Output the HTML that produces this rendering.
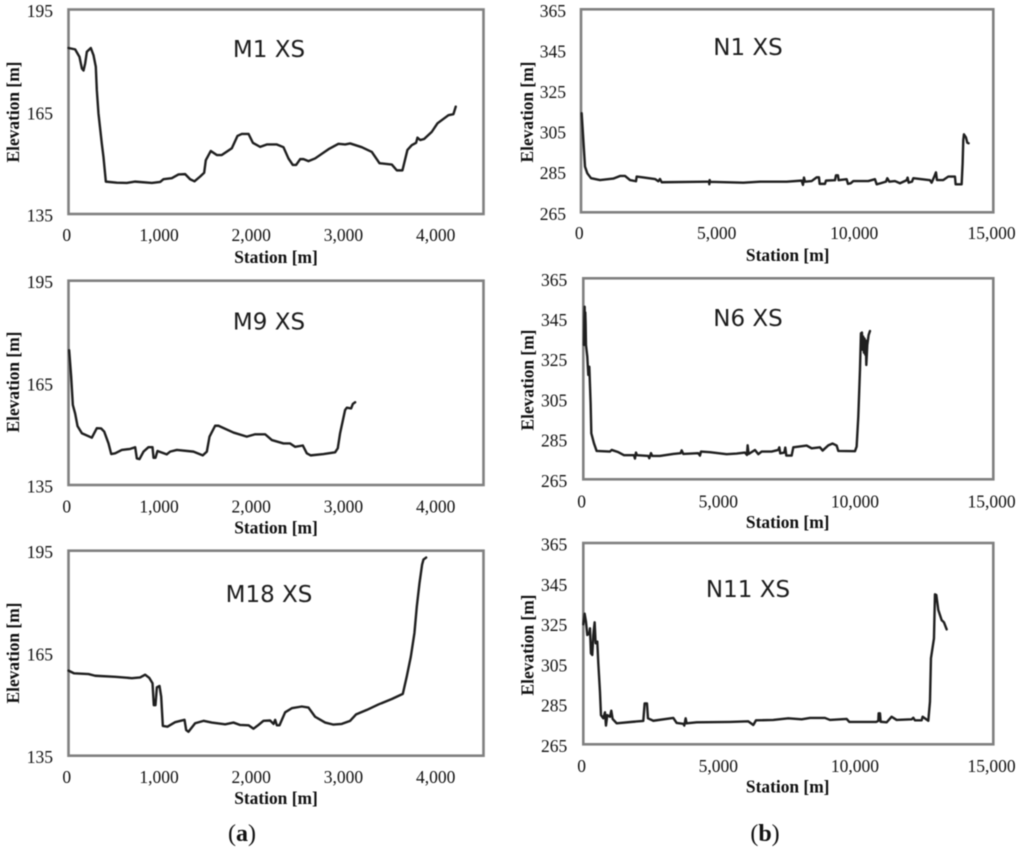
<!DOCTYPE html>
<html lang="en">
<head>
<meta charset="utf-8">
<title>Cross-section elevation profiles</title>
<style>
  html, body { margin: 0; padding: 0; background: #ffffff; }
  body { width: 1024px; height: 848px; overflow: hidden; }
  svg { display: block; filter: blur(0.4px); }
  .tick { font: 17.5px "Liberation Serif", serif; fill: #111111; }
  .axis-title { font: bold 17.4px "Liberation Serif", serif; fill: #111111; }
  .panel-title { font: 23px "DejaVu Sans", sans-serif; fill: #1c1c1c; }
  .caption { font: 24px "Liberation Serif", serif; fill: #111111; }
</style>
</head>
<body>
<svg id="figure" xmlns="http://www.w3.org/2000/svg" width="1024" height="848" viewBox="0 0 1024 848">
  <text class="caption" x="242" y="841" text-anchor="middle">(<tspan font-weight="bold">a</tspan>)</text>
  <text class="caption" x="765" y="841" text-anchor="middle">(<tspan font-weight="bold">b</tspan>)</text>
</svg>
<script>
// ---- Axis tick labels ----
const mElevationTicks = [135, 165, 195];
const mStationTicks = [0, 1000, 2000, 3000, 4000];
const nElevationTicks = [265, 285, 305, 325, 345, 365];
const nStationTicks = [0, 5000, 10000, 15000];

// ---- Series values: station [m] and elevation [m] ----
const m1Stations = [0,72,119,145,163,181,199,242,271,296,307,325,361,379,405,524,632,723,904,994,1030,1120,1193,1265,1319,1366,1428,1471,1489,1543,1608,1662,1771,1832,1879,1952,1999,2078,2150,2259,2331,2385,2432,2468,2512,2548,2602,2674,2819,2927,3000,3054,3180,3289,3372,3506,3560,3621,3675,3722,3769,3784,3813,3856,3939,4001,4120,4174,4199];
const m1Elevations = [183.7,183.3,181.1,177.7,177.1,179.2,182.6,183.7,181.6,178.2,171.4,164.5,155.7,151.8,144.5,144.2,144.1,144.5,144.1,144.4,145.2,145.5,146.6,146.7,145.2,144.6,146.0,147.1,150.8,153.5,152.3,152.3,154.3,157.9,158.5,158.5,155.9,154.7,155.4,155.4,154.6,151.3,149.4,149.4,151.1,151.1,150.5,151.3,154,155.6,155.4,155.7,154.6,153.2,149.9,149.5,147.8,147.8,153.8,155.2,155.9,157.4,156.7,157,159.1,161.6,164,164.3,166.5];

const m9Stations = [7,29,47,72,98,145,253,307,354,387,434,463,506,578,669,723,741,770,813,867,911,922,943,965,1066,1102,1175,1355,1456,1500,1529,1590,1626,1789,1933,2024,2132,2205,2331,2403,2458,2541,2584,2627,2765,2891,2920,2945,2999,3018,3065,3083,3108];
const m9Elevations = [174.6,166.8,158.5,156,152.3,150.2,148.9,151.7,151.6,150.7,147.2,144.1,144.3,145.3,145.6,146.1,142.8,142.6,144.8,146.1,146.1,143,143,145,144,144.8,145.3,144.8,143.7,144.8,149.2,152.4,152.4,150.4,149.2,149.9,149.9,148.2,147.2,147.2,146.2,146.6,144.3,143.7,144.1,144.6,145.8,150.2,157,157.7,157.5,158.8,159.3];

const m18Stations = [0,61,217,289,506,687,777,831,875,911,925,943,958,987,1005,1023,1073,1156,1258,1276,1301,1373,1464,1554,1699,1789,1861,1952,2006,2060,2114,2186,2223,2241,2259,2288,2349,2421,2530,2602,2674,2783,2873,2963,3054,3119,3235,3361,3506,3625,3668,3712,3751,3777,3806,3834,3849,3878];
const m18Elevations = [159.9,159.1,158.9,158.4,158.1,157.7,157.9,158.7,157.8,156.2,149.8,149.8,155,155.4,152.3,143.7,143.5,144.8,145.5,142.5,142,144.5,145.2,144.7,144.2,144.7,144,143.9,142.9,144,145.2,145.3,144.3,145.5,143.9,143.9,147.7,148.9,149.4,149.1,146.4,144.7,144.1,144.3,145.2,147.1,148.4,150,151.6,153.1,158.2,164,170.9,178.7,185.5,190.9,192.4,193];

const n1Stations = [24,85,146,230,364,691,1176,1419,1601,1783,2001,2025,2268,2692,2813,2874,2934,4572,4657,4668,4681,4693,5905,6512,7482,8027,8076,8112,8149,8391,8573,8658,8682,8876,8913,9240,9276,9349,9373,9664,9713,9810,9907,10453,10695,10756,10901,11095,11144,11216,11422,11604,11847,11883,11920,12041,12090,12696,12757,12841,12914,12950,13181,13363,13605,13630,13848,13884,13908,13932,14005,14054,14102];
const n1Elevations = [313.8,300.6,287.5,284.2,281.8,280.9,281.6,282.9,282.9,280.9,280.3,282.6,282.2,281.4,280.3,281.4,279.8,280.1,280.1,278.8,280.9,280,279.6,280.1,280.1,280.6,278.5,282.1,280.1,280.4,282.2,282.2,279,279,280.6,280.8,283.2,283.2,280.8,281.3,279,279.3,280.4,280.4,281.3,278.8,279.3,280.1,281.8,280.1,280.4,279.3,280.8,282.1,279.6,280.1,281.8,280.8,279.6,282.2,284.7,280.9,280.9,282.6,282.6,278.8,278.8,289.1,300.6,303.4,301.9,299.3,299];

const n6Stations = [24,37,49,61,73,85,98,146,183,220,268,293,390,488,976,1037,1280,1488,1854,1890,1927,1963,2378,2415,2476,2524,2805,3293,3561,3598,3659,4207,4268,4305,4634,5244,5610,5915,5988,6012,6049,6280,6402,6524,6890,7134,7171,7207,7354,7390,7427,7622,7683,8171,8354,8659,8756,8963,9122,9268,9329,9939,10000,10061,10122,10158,10195,10219,10240,10268,10290,10317,10335,10354,10390,10439,10488];
const n6Elevations = [331.8,345,350.9,335,348,342.6,331.8,326,316.9,321,302.8,287.9,282.9,279.1,278.8,279.6,278.5,277,277,275.3,278.3,277,276.6,275.5,278,276.6,276.6,277.6,278,279.4,277.6,278,276.8,278.8,278.5,277.5,277.8,278.3,277.1,281.9,277.6,279.6,277.5,278.8,278.8,279.6,280.9,277.9,278.3,280.8,276.8,276.8,280.9,281.8,280.4,280.9,279.3,281.9,282.8,281.8,279.1,279,281.3,296.2,319.4,337.6,338,329.4,336,328,335,327,334,321.9,331.8,336.8,338.8];

const n11Stations = [0,49,98,146,220,244,280,329,366,415,451,512,549,610,646,732,793,829,878,976,1024,1073,1220,1829,2195,2244,2329,2366,2561,3293,3415,3659,3695,3744,3780,4146,5366,6037,6220,6317,6951,7500,7988,8293,8842,9024,9634,9732,10707,10793,10805,10854,10878,11098,11280,11463,12012,12073,12134,12378,12414,12622,12683,12719,12829,12866,12915,12988,13110,13195,13293];
const n11Elevations = [324.6,329.9,325.9,319.3,320.1,322.6,310.2,309.4,319.3,325.6,315.2,316,305.2,291.1,279.5,277.9,280.9,274.3,279.5,278.7,281.7,277.6,275.4,276.2,276.6,285.3,285.3,277.9,276.7,278.1,275.6,275.2,274.3,277.9,275.4,275.9,276.1,276.4,274.6,276.9,277.1,277.9,277.4,278.1,278.1,277.1,277.6,276.1,276.1,276.6,280.4,280.4,276.2,275.9,278.7,277.1,277.4,278.2,276.9,276.9,278.7,276.7,286.2,307.7,317.6,339.5,339.2,331.7,326.7,325.6,322.1];

// ---- Panels ----
const panels = [
  { id:'m1',  title:'M1 XS',  stations:m1Stations,  elevations:m1Elevations,  xTicks:mStationTicks, yTicks:mElevationTicks, xMax:4500,  yMin:135, yMax:195,
    box:{l:68.5,r:483.5,t:9.5,b:214},    titleX:269, titleY:50,  xLabelY:235, xTitleX:276, xTitleY:257, yTitleX:13, yTitleY:112, yLabelX:53 },
  { id:'m9',  title:'M9 XS',  stations:m9Stations,  elevations:m9Elevations,  xTicks:mStationTicks, yTicks:mElevationTicks, xMax:4500,  yMin:135, yMax:195,
    box:{l:68.5,r:483.5,t:280.7,b:485},  titleX:269, titleY:322.7, xLabelY:506.5, xTitleX:276, xTitleY:527.5, yTitleX:13, yTitleY:382, yLabelX:53 },
  { id:'m18', title:'M18 XS', stations:m18Stations, elevations:m18Elevations, xTicks:mStationTicks, yTicks:mElevationTicks, xMax:4500,  yMin:135, yMax:195,
    box:{l:68.5,r:483.5,t:550.7,b:755.7},titleX:269, titleY:595, xLabelY:777, xTitleX:276, xTitleY:798, yTitleX:13, yTitleY:653, yLabelX:53 },
  { id:'n1',  title:'N1 XS',  stations:n1Stations,  elevations:n1Elevations,  xTicks:nStationTicks, yTicks:nElevationTicks, xMax:15000, yMin:265, yMax:365,
    box:{l:581,r:993.3,t:9.3,b:212.3},   titleX:748, titleY:48,  xLabelY:233, xTitleX:787.7, xTitleY:255, yTitleX:527, yTitleY:112, yLabelX:566 },
  { id:'n6',  title:'N6 XS',  stations:n6Stations,  elevations:n6Elevations,  xTicks:nStationTicks, yTicks:nElevationTicks, xMax:15000, yMin:265, yMax:365,
    box:{l:583.3,r:993.3,t:278.3,b:479.3},titleX:748, titleY:319, xLabelY:501.7, xTitleX:787.7, xTitleY:522, yTitleX:527.7, yTitleY:380, yLabelX:567.3 },
  { id:'n11', title:'N11 XS', stations:n11Stations, elevations:n11Elevations, xTicks:nStationTicks, yTicks:nElevationTicks, xMax:15000, yMin:265, yMax:365,
    box:{l:583.3,r:993.3,t:543,b:744.3}, titleX:748, titleY:590, xLabelY:766, xTitleX:787.7, xTitleY:786.7, yTitleX:527.7, yTitleY:645, yLabelX:567.3 }
];

const SVG_NS = 'http://www.w3.org/2000/svg';
const figure = document.getElementById('figure');

function addText(parent, cls, x, y, content, anchor) {
  const t = document.createElementNS(SVG_NS, 'text');
  t.setAttribute('class', cls);
  t.setAttribute('x', x);
  t.setAttribute('y', y);
  t.setAttribute('text-anchor', anchor);
  t.setAttribute('dominant-baseline', 'central');
  t.textContent = content;
  parent.appendChild(t);
  return t;
}

function formatNumber(v) {
  return String(v).replace(/\B(?=(\d{3})+(?!\d))/g, ',');
}

panels.forEach(function (p) {
  const b = p.box;
  const xScale = function (v) { return b.l + (v / p.xMax) * (b.r - b.l); };
  const yScale = function (v) { return b.b - ((v - p.yMin) / (p.yMax - p.yMin)) * (b.b - b.t); };

  const g = document.createElementNS(SVG_NS, 'g');
  
  
  figure.appendChild(g);

  const frame = document.createElementNS(SVG_NS, 'rect');
  
  
  frame.setAttribute('x', b.l);
  frame.setAttribute('y', b.t);
  frame.setAttribute('width', b.r - b.l);
  frame.setAttribute('height', b.b - b.t);
  frame.setAttribute('fill', '#ffffff');
  frame.setAttribute('stroke', '#808080');
  frame.setAttribute('stroke-width', '2.6');
  g.appendChild(frame);

  p.yTicks.forEach(function (v) {
    const label = addText(g, 'tick', p.yLabelX, yScale(v) + 1.5, formatNumber(v), 'end');
    
    
  });

  p.xTicks.forEach(function (v) {
    const label = addText(g, 'tick', xScale(v) - 1.7, p.xLabelY, formatNumber(v), 'middle');
    
    
  });

  const xTitle = addText(g, 'axis-title', p.xTitleX, p.xTitleY, 'Station [m]', 'middle');
  
  

  const yTitle = addText(g, 'axis-title', 0, 0, 'Elevation [m]', 'middle');
  yTitle.setAttribute('transform', 'translate(' + p.yTitleX + ' ' + p.yTitleY + ') rotate(-90)');
  
  

  const title = addText(g, 'panel-title', p.titleX, p.titleY, p.title, 'middle');
  
  

  const d = p.stations.map(function (s, i) {
    return (i ? 'L' : 'M') + xScale(s).toFixed(2) + ' ' + yScale(p.elevations[i]).toFixed(2);
  }).join(' ');
  const line = document.createElementNS(SVG_NS, 'path');
  
  
  line.setAttribute('d', d);
  line.setAttribute('fill', 'none');
  line.setAttribute('stroke', '#1f1f1f');
  line.setAttribute('stroke-width', '2.4');
  line.setAttribute('stroke-linejoin', 'round');
  line.setAttribute('stroke-linecap', 'round');
  g.appendChild(line);
});
</script>
</body>
</html>
